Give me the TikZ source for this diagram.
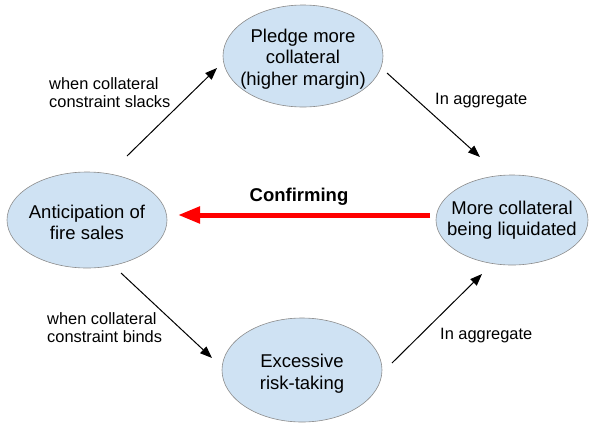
\documentclass[tikz,border=0pt]{standalone}
\usepackage{fontspec}
\setmainfont{Liberation Sans}
\usetikzlibrary{shapes.geometric,arrows.meta}
\definecolor{nodefill}{HTML}{CFE2F3}
\definecolor{nodeline}{HTML}{8C8C8C}
\tikzset{
  bubble/.style={ellipse, draw=nodeline, line width=0.6pt, fill=nodefill, inner sep=0pt},
  bubtext/.style={align=center, inner sep=0pt, font=\fontsize{18.5}{21.5}\selectfont},
  link/.style={-{Triangle[length=12pt,width=9pt]}, line width=1pt, black},
  lbl/.style={align=left, anchor=west, inner sep=0pt, font=\fontsize{16.4}{18}\selectfont},
  confirm/.style={-{Triangle[length=22pt,width=16pt]}, line width=5pt, red}
}
\begin{document}
\begin{tikzpicture}[x=1pt,y=-1pt]
\useasboundingbox (0,0) rectangle (589,424);
\node[bubble, minimum width=160pt, minimum height=102pt] (pledge) at (303,56) {};
\node[bubtext, yshift=-3pt] (pledget) at (pledge) {Pledge more\\collateral\\(higher margin)};
\node[bubble, minimum width=160pt, minimum height=96pt] (antic) at (87,220) {};
\node[bubtext, yshift=-2.5pt] (antict) at (antic) {Anticipation of\\fire sales};
\node[bubble, minimum width=152pt, minimum height=90pt] (liq) at (512,220) {};
\node[bubtext] (liqt) at (liq) {More collateral\\being liquidated};
\node[bubble, minimum width=160pt, minimum height=104pt] (risk) at (302,370) {};
\node[bubtext, yshift=-3.5pt] (riskt) at (risk) {Excessive\\risk-taking};

\coordinate (a1) at (127,156);
\coordinate (a2) at (217,68);
\coordinate (b1) at (387,73);
\coordinate (b2) at (480,157);
\coordinate (c1) at (121,273);
\coordinate (c2) at (212,358);
\coordinate (d1) at (392,363);
\coordinate (d2) at (482,274);
\coordinate (r1) at (430,215);
\coordinate (r2) at (178,215);

\draw[link] (a1) -- (a2);
\draw[link] (b1) -- (b2);
\draw[link] (c1) -- (c2);
\draw[link] (d1) -- (d2);
\draw[confirm] (r1) -- (r2);

\node[lbl] (l1) at (49,93) {when collateral\\constraint slacks};
\node[lbl] (l2) at (435,101) {In aggregate};
\node[lbl] (l3) at (47,328) {when collateral\\constraint binds};
\node[lbl] (l4) at (440,336) {In aggregate};
\node[font=\fontsize{18.5}{21}\selectfont\bfseries, inner sep=0pt] (conf) at (299,197) {Confirming};
\end{tikzpicture}
\end{document}
